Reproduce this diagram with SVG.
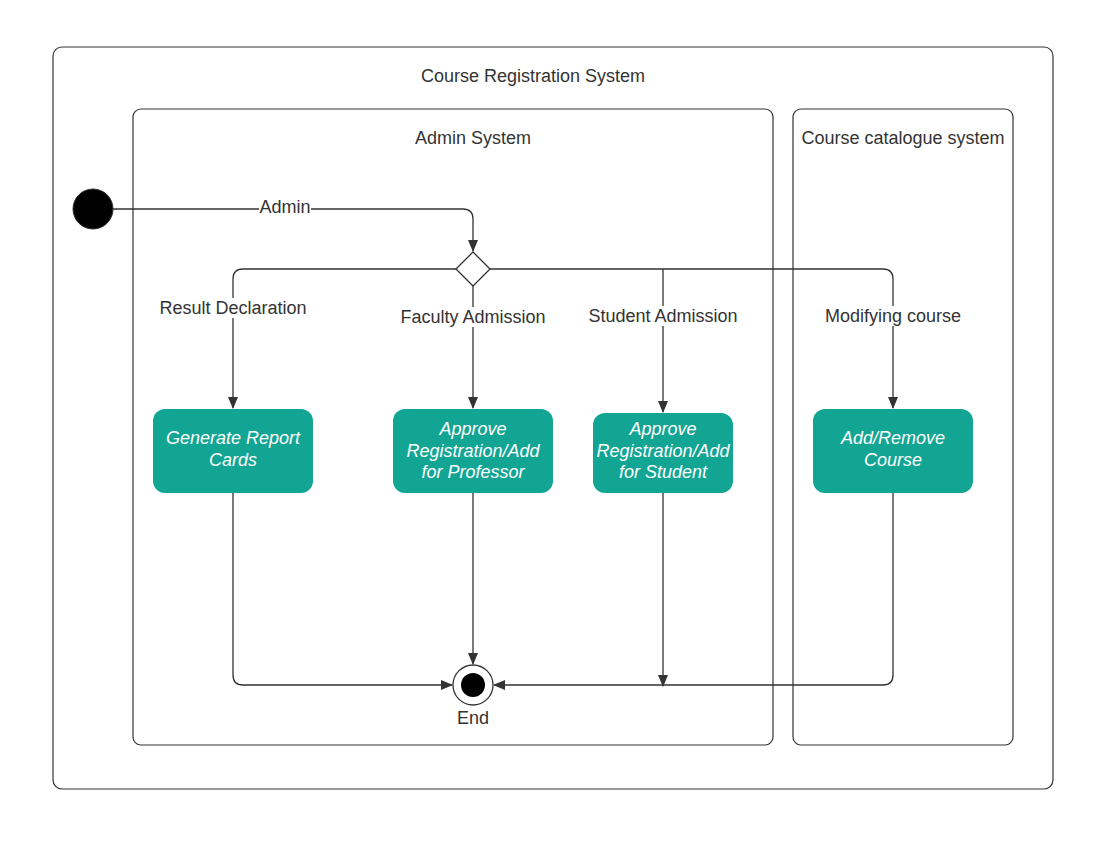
<svg xmlns="http://www.w3.org/2000/svg" width="1100" height="841" viewBox="0 0 1100 841">
<style>
.frame{fill:#fff;stroke:#333;stroke-width:1.2}
.lbl{font-family:"Liberation Sans",Arial,sans-serif;font-size:18px;fill:#333;text-anchor:middle}
.act{fill:#12a594;stroke:none}
.atxt{font-family:"Liberation Sans",Arial,sans-serif;font-size:18px;font-style:italic;fill:#fff;text-anchor:middle}
.edge{fill:none;stroke:#333;stroke-width:1.3}
.bg{fill:#fff}
</style>
<defs>
<marker id="arr" viewBox="0 0 12 12" refX="11" refY="6" markerWidth="12" markerHeight="12" markerUnits="userSpaceOnUse" orient="auto">
<path d="M0,1 L12,6 L0,11 Z" fill="#333"/>
</marker>
</defs>
<g id="course-registration-system">
<rect class="frame" x="53" y="47" width="1000" height="742" rx="9"/>
<text class="lbl" x="533" y="82">Course Registration System</text>
</g>
<g id="admin-system">
<rect class="frame" x="133" y="109" width="640" height="636" rx="8"/>
<text class="lbl" x="473" y="144">Admin System</text>
</g>
<g id="course-catalogue-system">
<rect class="frame" x="793" y="109" width="220" height="636" rx="8"/>
<text class="lbl" x="903" y="144">Course catalogue system</text>
</g>
<g id="connectors">
<path class="edge" d="M113,209 H463 Q473,209 473,219 V251" marker-end="url(#arr)"/>
<path class="edge" d="M456,269 H243 Q233,269 233,279 V408" marker-end="url(#arr)"/>
<path class="edge" d="M473,286 V408" marker-end="url(#arr)"/>
<path class="edge" d="M490,269 H883 Q893,269 893,279 V408" marker-end="url(#arr)"/>
<path class="edge" d="M663,269 V412" marker-end="url(#arr)"/>
<path class="edge" d="M233,493 V675 Q233,685 243,685 H452" marker-end="url(#arr)"/>
<path class="edge" d="M473,493 V664" marker-end="url(#arr)"/>
<path class="edge" d="M663,493 V686" marker-end="url(#arr)"/>
<path class="edge" d="M893,493 V675 Q893,685 883,685 H494" marker-end="url(#arr)"/>
<rect class="bg" x="259" y="198" width="52" height="20"/>
<text class="lbl" x="285" y="213">Admin</text>
<rect class="bg" x="158" y="298" width="150" height="20"/>
<text class="lbl" x="233" y="314">Result Declaration</text>
<rect class="bg" x="398" y="307" width="150" height="20"/>
<text class="lbl" x="473" y="323">Faculty Admission</text>
<rect class="bg" x="587" y="306" width="152" height="20"/>
<text class="lbl" x="663" y="322">Student Admission</text>
<rect class="bg" x="824" y="306" width="138" height="20"/>
<text class="lbl" x="893" y="322">Modifying course</text>
</g>
<g id="start">
<circle cx="93" cy="209" r="20" fill="#000" stroke="#333" stroke-width="1"/>
</g>
<g id="decision">
<path d="M473,252 L490,269 L473,286 L456,269 Z" fill="#fff" stroke="#333" stroke-width="1.3" stroke-linejoin="round"/>
</g>
<g id="generate-report-cards">
<rect class="act" x="153" y="409" width="160" height="84" rx="12"/>
<text class="atxt" x="233" y="444">Generate Report</text>
<text class="atxt" x="233" y="466">Cards</text>
</g>
<g id="approve-professor">
<rect class="act" x="393" y="409" width="160" height="84" rx="12"/>
<text class="atxt" x="473" y="435">Approve</text>
<text class="atxt" x="473" y="457">Registration/Add</text>
<text class="atxt" x="473" y="478">for Professor</text>
</g>
<g id="approve-student">
<rect class="act" x="593" y="413" width="140" height="80" rx="12"/>
<text class="atxt" x="663" y="435">Approve</text>
<text class="atxt" x="663" y="457">Registration/Add</text>
<text class="atxt" x="663" y="478">for Student</text>
</g>
<g id="add-remove-course">
<rect class="act" x="813" y="409" width="160" height="84" rx="12"/>
<text class="atxt" x="893" y="444">Add/Remove</text>
<text class="atxt" x="893" y="466">Course</text>
</g>
<g id="end">
<circle cx="473" cy="685" r="20" fill="#fff" stroke="#333" stroke-width="1.3"/>
<circle cx="473" cy="685" r="12" fill="#000"/>
<text class="lbl" x="473" y="724">End</text>
</g>
</svg>
